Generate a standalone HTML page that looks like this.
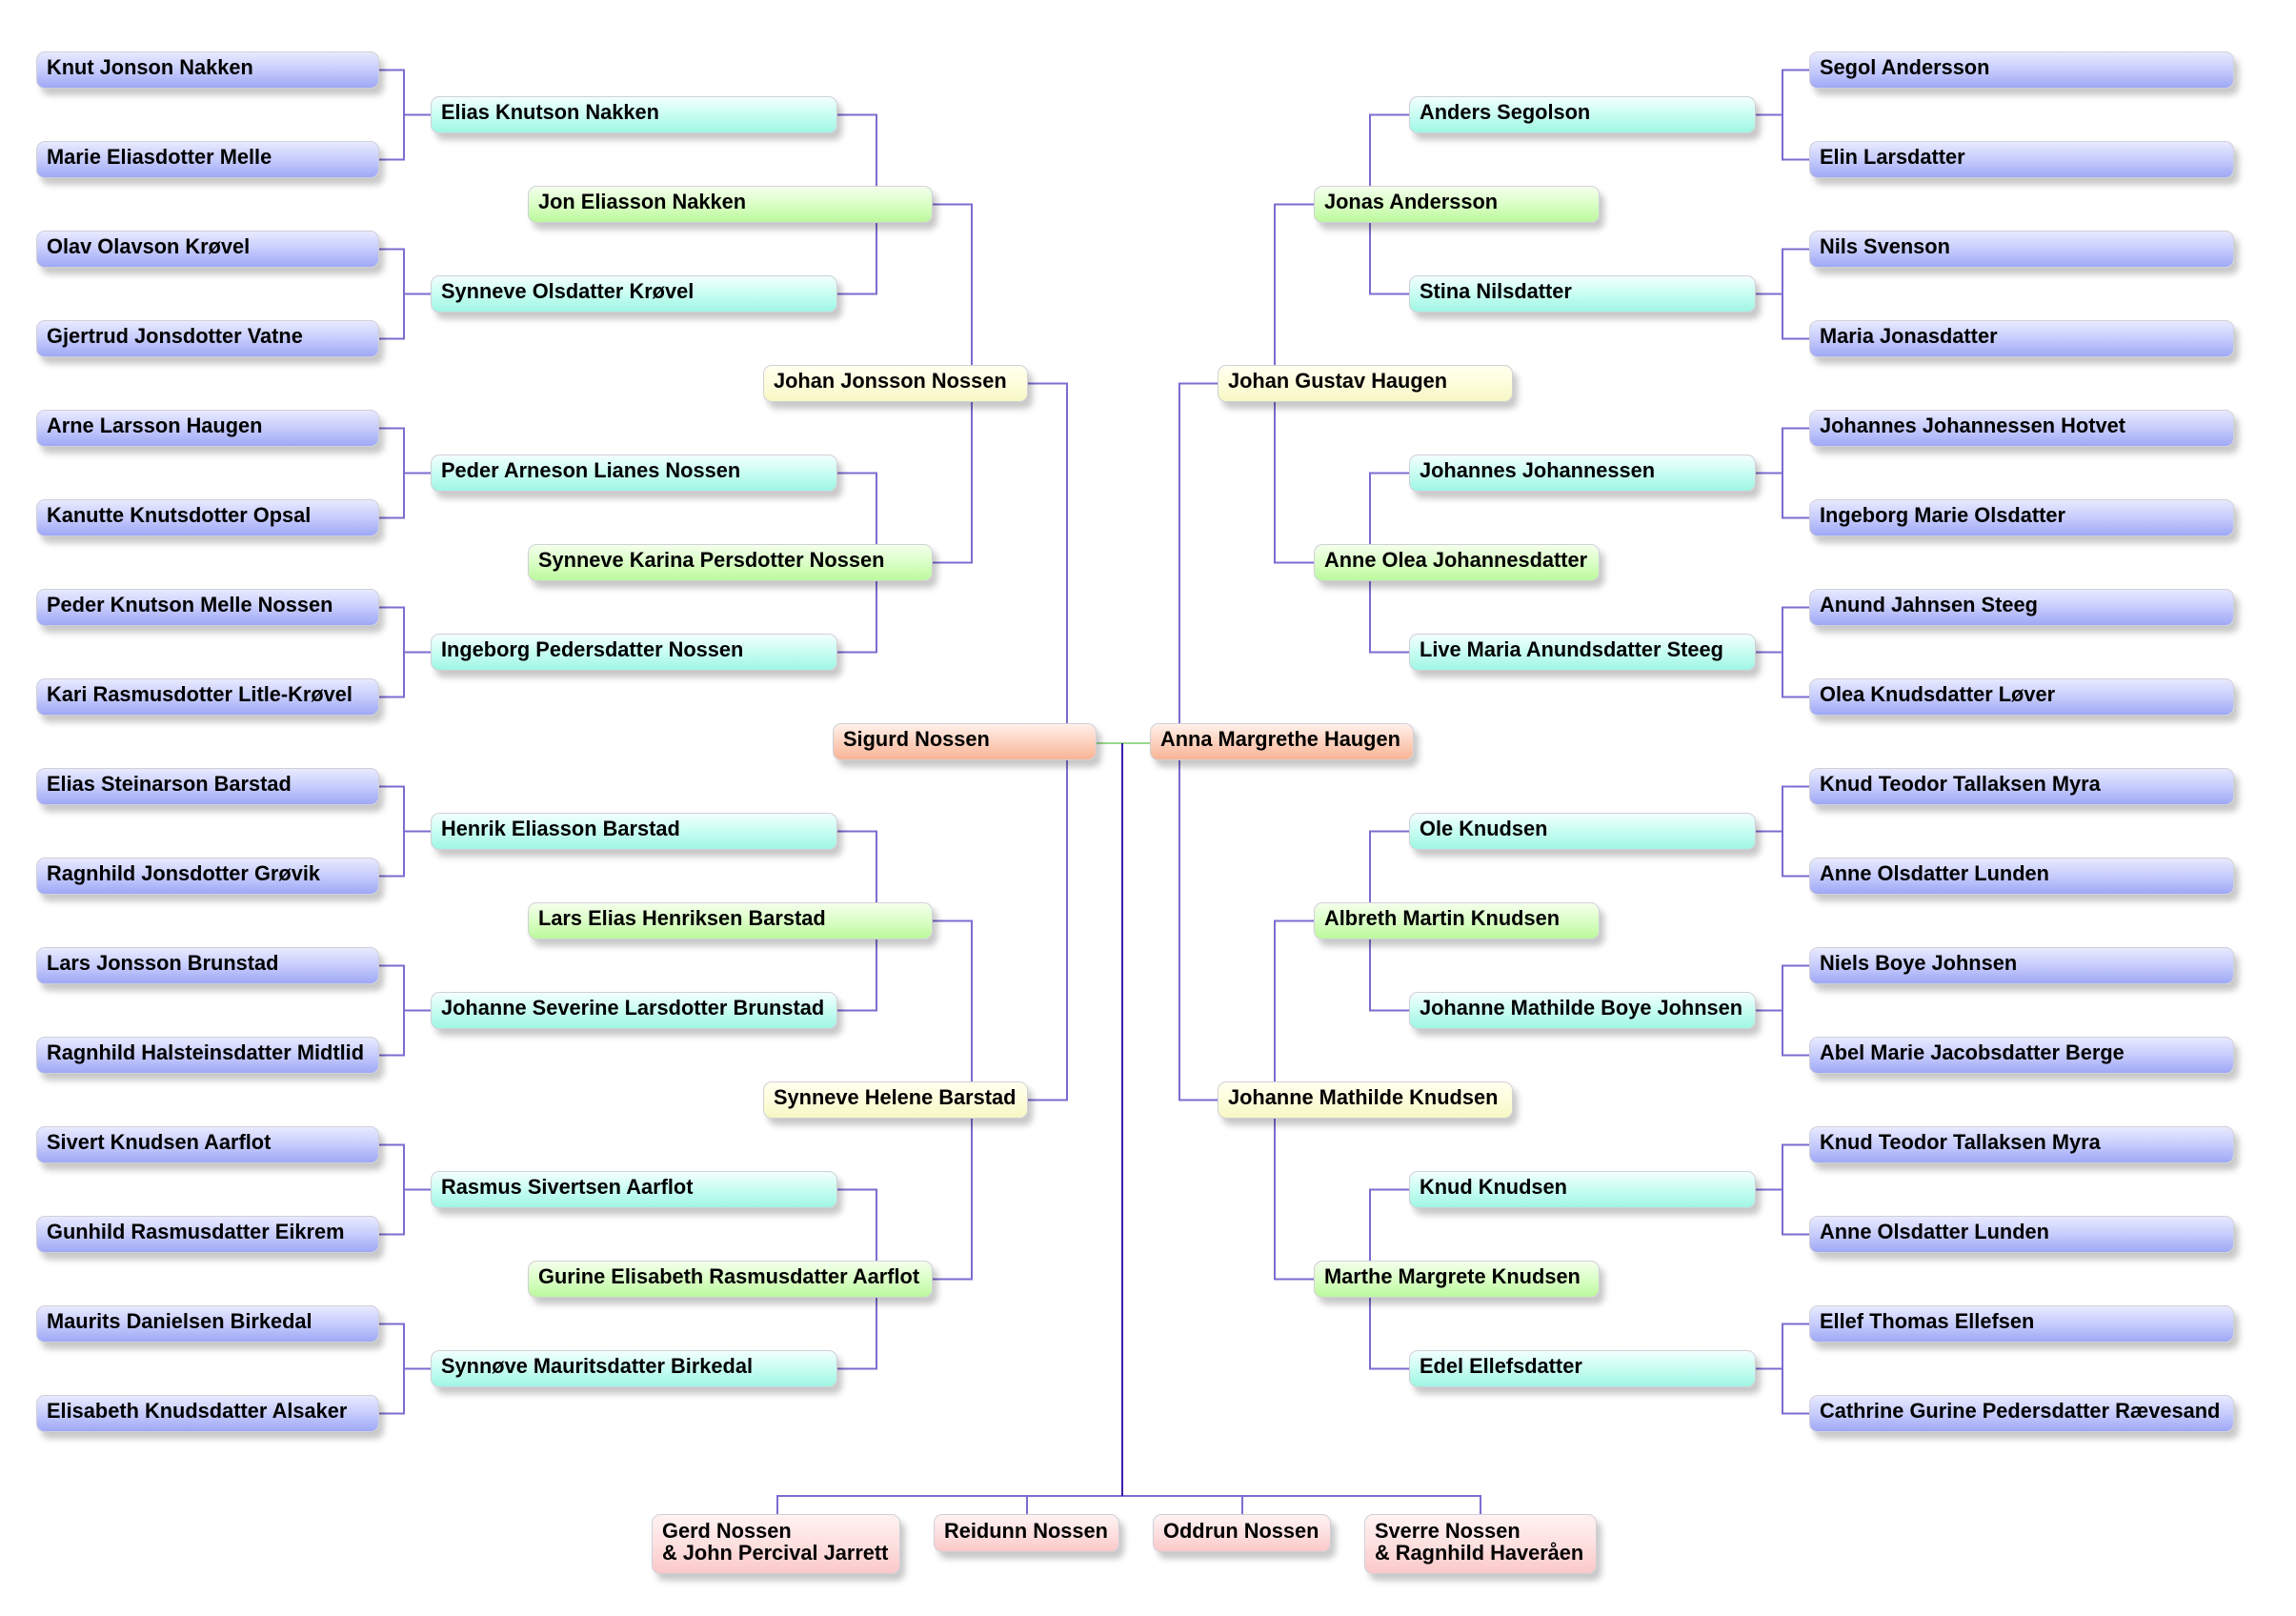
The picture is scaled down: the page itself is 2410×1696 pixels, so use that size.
<!DOCTYPE html>
<html><head><meta charset="utf-8"><style>
body{margin:0;background:#fff;width:2410px;height:1696px;position:relative;overflow:hidden;font-family:"Liberation Sans",Arial,sans-serif;}
.b{position:absolute;height:39px;box-sizing:border-box;border:1.5px solid #d0d0d8;border-radius:9px;box-shadow:5px 7px 7px rgba(0,0,0,0.22);font-weight:bold;font-size:21.8px;line-height:32px;padding-left:10px;white-space:nowrap;color:#000;}
.g4{background:linear-gradient(#e8eaff,#c6ccfc 50%,#9ea8f6);}
.g3{background:linear-gradient(#f2fffd,#c8fdf2 50%,#9ff6e4);}
.g2{background:linear-gradient(#f4ffec,#daffc6 50%,#bcf89c);}
.g1{background:linear-gradient(#ffffef,#fdfddc 50%,#f7f7c4);}
.g0{background:linear-gradient(#fff0ea,#fdd2bf 50%,#f8b496);}
.gc{background:linear-gradient(#fff2f2,#fde0e0 50%,#fbc8c8);height:auto;line-height:23px;padding-top:5px;padding-bottom:8px;}
svg{position:absolute;left:0;top:0;}
</style></head><body>
<svg width="2410" height="1696" fill="none" stroke="#7c6cd0" stroke-width="2">
<path d="M398 73.5H424V167.5H398M424 120.5H452"/>
<path d="M398 261.5H424V355.5H398M424 308.5H452"/>
<path d="M398 449.5H424V543.5H398M424 496.5H452"/>
<path d="M398 637.5H424V731.5H398M424 684.5H452"/>
<path d="M398 825.5H424V919.5H398M424 872.5H452"/>
<path d="M398 1013.5H424V1107.5H398M424 1060.5H452"/>
<path d="M398 1201.5H424V1295.5H398M424 1248.5H452"/>
<path d="M398 1389.5H424V1483.5H398M424 1436.5H452"/>
<path d="M879 120.5H920V308.5H879"/>
<path d="M879 496.5H920V684.5H879"/>
<path d="M879 872.5H920V1060.5H879"/>
<path d="M879 1248.5H920V1436.5H879"/>
<path d="M979 214.5H1020V590.5H979"/>
<path d="M979 966.5H1020V1342.5H979"/>
<path d="M1078 402.5H1120V1154.5H1078"/>
<path d="M1278 402.5H1238V1154.5H1278"/>
<path d="M1379 214.5H1338V590.5H1379"/>
<path d="M1379 966.5H1338V1342.5H1379"/>
<path d="M1479 120.5H1438V308.5H1479"/>
<path d="M1479 496.5H1438V684.5H1479"/>
<path d="M1479 872.5H1438V1060.5H1479"/>
<path d="M1479 1248.5H1438V1436.5H1479"/>
<path d="M1899 73.5H1871V167.5H1899M1871 120.5H1843"/>
<path d="M1899 261.5H1871V355.5H1899M1871 308.5H1843"/>
<path d="M1899 449.5H1871V543.5H1899M1871 496.5H1843"/>
<path d="M1899 637.5H1871V731.5H1899M1871 684.5H1843"/>
<path d="M1899 825.5H1871V919.5H1899M1871 872.5H1843"/>
<path d="M1899 1013.5H1871V1107.5H1899M1871 1060.5H1843"/>
<path d="M1899 1201.5H1871V1295.5H1899M1871 1248.5H1843"/>
<path d="M1899 1389.5H1871V1483.5H1899M1871 1436.5H1843"/>
<path d="M816 1590V1570H1554V1590M1078 1570V1590M1304 1570V1590"/>
<path d="M1151 780H1207" stroke="#9ad88a"/>
<path d="M1178 780V1570" stroke="#3a1ca8"/>
</svg>

<div class="b g4" style="left:38px;top:54px;width:360px">Knut Jonson Nakken</div>
<div class="b g4" style="left:38px;top:148px;width:360px">Marie Eliasdotter Melle</div>
<div class="b g4" style="left:38px;top:242px;width:360px">Olav Olavson Krøvel</div>
<div class="b g4" style="left:38px;top:336px;width:360px">Gjertrud Jonsdotter Vatne</div>
<div class="b g4" style="left:38px;top:430px;width:360px">Arne Larsson Haugen</div>
<div class="b g4" style="left:38px;top:524px;width:360px">Kanutte Knutsdotter Opsal</div>
<div class="b g4" style="left:38px;top:618px;width:360px">Peder Knutson Melle Nossen</div>
<div class="b g4" style="left:38px;top:712px;width:360px">Kari Rasmusdotter Litle-Krøvel</div>
<div class="b g4" style="left:38px;top:806px;width:360px">Elias Steinarson Barstad</div>
<div class="b g4" style="left:38px;top:900px;width:360px">Ragnhild Jonsdotter Grøvik</div>
<div class="b g4" style="left:38px;top:994px;width:360px">Lars Jonsson Brunstad</div>
<div class="b g4" style="left:38px;top:1088px;width:360px">Ragnhild Halsteinsdatter Midtlid</div>
<div class="b g4" style="left:38px;top:1182px;width:360px">Sivert Knudsen Aarflot</div>
<div class="b g4" style="left:38px;top:1276px;width:360px">Gunhild Rasmusdatter Eikrem</div>
<div class="b g4" style="left:38px;top:1370px;width:360px">Maurits Danielsen Birkedal</div>
<div class="b g4" style="left:38px;top:1464px;width:360px">Elisabeth Knudsdatter Alsaker</div>
<div class="b g3" style="left:452px;top:101px;width:427px">Elias Knutson Nakken</div>
<div class="b g3" style="left:452px;top:289px;width:427px">Synneve Olsdatter Krøvel</div>
<div class="b g3" style="left:452px;top:477px;width:427px">Peder Arneson Lianes Nossen</div>
<div class="b g3" style="left:452px;top:665px;width:427px">Ingeborg Pedersdatter Nossen</div>
<div class="b g3" style="left:452px;top:853px;width:427px">Henrik Eliasson Barstad</div>
<div class="b g3" style="left:452px;top:1041px;width:427px">Johanne Severine Larsdotter Brunstad</div>
<div class="b g3" style="left:452px;top:1229px;width:427px">Rasmus Sivertsen Aarflot</div>
<div class="b g3" style="left:452px;top:1417px;width:427px">Synnøve Mauritsdatter Birkedal</div>
<div class="b g2" style="left:554px;top:195px;width:425px">Jon Eliasson Nakken</div>
<div class="b g2" style="left:554px;top:571px;width:425px">Synneve Karina Persdotter Nossen</div>
<div class="b g2" style="left:554px;top:947px;width:425px">Lars Elias Henriksen Barstad</div>
<div class="b g2" style="left:554px;top:1323px;width:425px">Gurine Elisabeth Rasmusdatter Aarflot</div>
<div class="b g1" style="left:801px;top:383px;width:278px">Johan Jonsson Nossen</div>
<div class="b g1" style="left:801px;top:1135px;width:278px">Synneve Helene Barstad</div>
<div class="b g0" style="left:874px;top:759px;width:277px">Sigurd Nossen</div>
<div class="b g0" style="left:1207px;top:759px;width:277px">Anna Margrethe Haugen</div>
<div class="b g1" style="left:1278px;top:383px;width:310px">Johan Gustav Haugen</div>
<div class="b g1" style="left:1278px;top:1135px;width:310px">Johanne Mathilde Knudsen</div>
<div class="b g2" style="left:1379px;top:195px;width:300px">Jonas Andersson</div>
<div class="b g2" style="left:1379px;top:571px;width:300px">Anne Olea Johannesdatter</div>
<div class="b g2" style="left:1379px;top:947px;width:300px">Albreth Martin Knudsen</div>
<div class="b g2" style="left:1379px;top:1323px;width:300px">Marthe Margrete Knudsen</div>
<div class="b g3" style="left:1479px;top:101px;width:364px">Anders Segolson</div>
<div class="b g3" style="left:1479px;top:289px;width:364px">Stina Nilsdatter</div>
<div class="b g3" style="left:1479px;top:477px;width:364px">Johannes Johannessen</div>
<div class="b g3" style="left:1479px;top:665px;width:364px">Live Maria Anundsdatter Steeg</div>
<div class="b g3" style="left:1479px;top:853px;width:364px">Ole Knudsen</div>
<div class="b g3" style="left:1479px;top:1041px;width:364px">Johanne Mathilde Boye Johnsen</div>
<div class="b g3" style="left:1479px;top:1229px;width:364px">Knud Knudsen</div>
<div class="b g3" style="left:1479px;top:1417px;width:364px">Edel Ellefsdatter</div>
<div class="b g4" style="left:1899px;top:54px;width:446px">Segol Andersson</div>
<div class="b g4" style="left:1899px;top:148px;width:446px">Elin Larsdatter</div>
<div class="b g4" style="left:1899px;top:242px;width:446px">Nils Svenson</div>
<div class="b g4" style="left:1899px;top:336px;width:446px">Maria Jonasdatter</div>
<div class="b g4" style="left:1899px;top:430px;width:446px">Johannes Johannessen Hotvet</div>
<div class="b g4" style="left:1899px;top:524px;width:446px">Ingeborg Marie Olsdatter</div>
<div class="b g4" style="left:1899px;top:618px;width:446px">Anund Jahnsen Steeg</div>
<div class="b g4" style="left:1899px;top:712px;width:446px">Olea Knudsdatter Løver</div>
<div class="b g4" style="left:1899px;top:806px;width:446px">Knud Teodor Tallaksen Myra</div>
<div class="b g4" style="left:1899px;top:900px;width:446px">Anne Olsdatter Lunden</div>
<div class="b g4" style="left:1899px;top:994px;width:446px">Niels Boye Johnsen</div>
<div class="b g4" style="left:1899px;top:1088px;width:446px">Abel Marie Jacobsdatter Berge</div>
<div class="b g4" style="left:1899px;top:1182px;width:446px">Knud Teodor Tallaksen Myra</div>
<div class="b g4" style="left:1899px;top:1276px;width:446px">Anne Olsdatter Lunden</div>
<div class="b g4" style="left:1899px;top:1370px;width:446px">Ellef Thomas Ellefsen</div>
<div class="b g4" style="left:1899px;top:1464px;width:446px">Cathrine Gurine Pedersdatter Rævesand</div>
<div class="b gc" style="left:684px;top:1589px;width:261px;height:63px">Gerd Nossen<br>&amp; John Percival Jarrett</div>
<div class="b gc" style="left:980px;top:1589px;width:195px;height:40px">Reidunn Nossen</div>
<div class="b gc" style="left:1210px;top:1589px;width:187px;height:40px">Oddrun Nossen</div>
<div class="b gc" style="left:1432px;top:1589px;width:244px;height:63px">Sverre Nossen<br>&amp; Ragnhild Haveråen</div>
</body></html>
